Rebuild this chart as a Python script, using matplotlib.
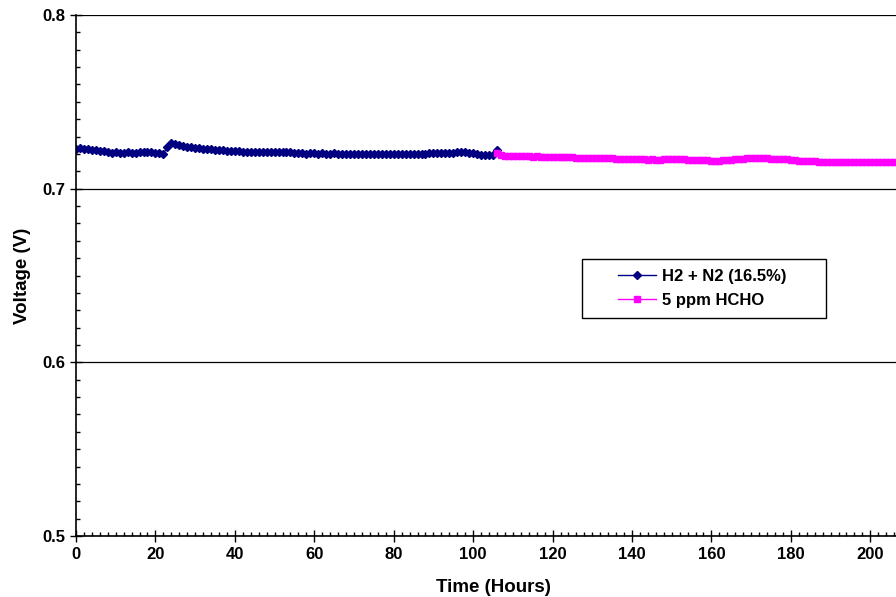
import matplotlib
matplotlib.use("Agg")
import matplotlib.pyplot as plt
from matplotlib.ticker import MultipleLocator
from matplotlib.patches import Rectangle

plt.rcParams.update({
    'font.family': ['Liberation Sans', 'DejaVu Sans'],
    'font.weight': 'bold',
    'axes.labelweight': 'bold',
})

# H2 + N2 (16.5%), hourly readings 0..106 h
h2_hours = list(range(0, 107))
h2_volts = [
    .7230, .7232, .7230, .7231, .7225, .7220, .7216, .7217, .7213, .7208,
    .7209, .7208, .7207, .7210, .7208, .7206, .7209, .7210, .7209, .7210,
    .7208, .7206, .7202, .7238, .7262, .7257, .7250, .7245, .7241, .7238,
    .7236, .7233, .7231, .7229, .7227, .7225, .7222, .7220, .7218, .7219,
    .7216, .7215, .7214, .7212, .7213, .7211, .7212, .7214, .7213, .7212,
    .7211, .7212, .7211, .7212, .7209, .7205, .7203, .7204, .7202, .7203,
    .7204, .7202, .7203, .7201, .7202, .7203, .7201, .7202, .7200, .7201,
    .7202, .7200, .7199, .7201, .7200, .7199, .7198, .7200, .7199, .7197,
    .7198, .7199, .7197, .7198, .7200, .7201, .7200, .7202, .7201, .7203,
    .7204, .7203, .7205, .7206, .7205, .7207, .7209, .7211, .7212, .7208,
    .7204, .7199, .7196, .7194, .7193, .7196, .7224,
]

# 5 ppm HCHO, hourly readings 106..207 h
hcho_hours = list(range(106, 208))
hcho_volts = [
    .7204, .7195, .7190, .7188,
    .7188, .7187, .7188, .7186, .7187, .7185, .7186, .7184, .7185, .7184,
    .7183, .7184, .7182, .7181, .7182, .7180, .7179, .7178, .7179, .7177,
    .7176, .7177, .7175, .7176, .7174, .7175, .7173, .7172, .7173, .7171,
    .7170, .7171, .7169, .7168, .7167, .7168, .7166, .7167, .7168, .7169,
    .7170, .7169, .7168, .7169, .7167, .7166, .7165, .7164, .7165, .7163,
    .7162, .7161, .7162, .7164, .7166, .7167, .7169, .7171, .7173, .7174,
    .7175, .7176, .7175, .7176, .7174, .7173, .7172, .7170, .7169, .7168,
    .7166, .7164, .7162, .7160, .7159, .7158, .7157, .7156, .7155, .7155,
    .7154, .7155, .7154, .7153, .7154, .7155, .7154, .7153, .7154, .7155,
    .7154, .7153, .7154, .7155, .7154, .7153, .7154, .7153,
]

fig = plt.figure(figsize=(8.96, 5.97), dpi=100)
ax = fig.add_axes([76 / 896, 61 / 597, 834 / 896, 521 / 597])

ax.plot(h2_hours, h2_volts, color='#000080', marker='D', markersize=4.4,
        linewidth=1, label='H2 + N2 (16.5%)')
ax.plot(hcho_hours, hcho_volts, color='#FF00FF', marker='s', markersize=4.2,
        linewidth=1, label='5 ppm HCHO')

ax.set_xlim(0, 210)
ax.set_ylim(0.5, 0.8)
ax.xaxis.set_major_locator(MultipleLocator(20))
ax.xaxis.set_minor_locator(MultipleLocator(2))
ax.yaxis.set_major_locator(MultipleLocator(0.1))
ax.yaxis.set_minor_locator(MultipleLocator(0.01))
ax.tick_params(which='major', direction='inout', length=8, width=1,
               labelsize=12, pad=4)
ax.tick_params(which='minor', direction='in', length=3, width=1)
ax.grid(axis='y', which='major', color='black', linewidth=0.9)
ax.set_axisbelow(True)

for side in ['top', 'right']:
    ax.spines[side].set_visible(False)
for side in ['left', 'bottom']:
    ax.spines[side].set_linewidth(1.2)

ax.set_xlabel('Time (Hours)', fontsize=13.5, labelpad=12)
ax.set_ylabel('Voltage (V)', fontsize=13.5, labelpad=8)

# Excel-style legend box with generous side padding
box = Rectangle((582 / 896, 1 - 318 / 597), 244 / 896, 59 / 597,
                transform=fig.transFigure, facecolor='white',
                edgecolor='black', linewidth=1, zorder=4, clip_on=False)
ax.add_patch(box)
leg = ax.legend(loc='center', bbox_to_anchor=(702 / 896, 1 - 288.5 / 597),
                bbox_transform=fig.transFigure, frameon=False, fontsize=12,
                handlelength=2.3, handletextpad=0.35, labelspacing=0.55,
                borderpad=0, borderaxespad=0)
leg.set_zorder(5)

fig.savefig('out.png', dpi=100)
